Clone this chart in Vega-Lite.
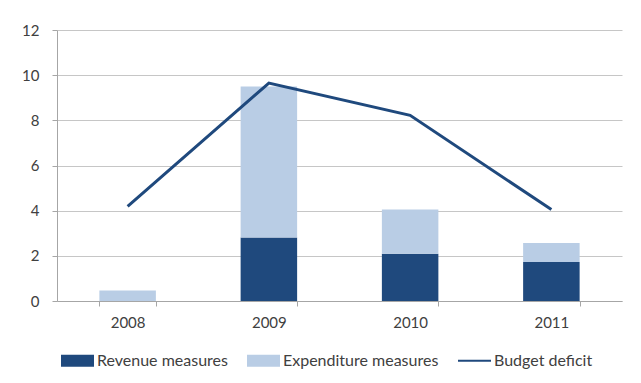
{
  "$schema": "https://vega.github.io/schema/vega-lite/v6.json",
  "autosize": "none",
  "width": 565,
  "height": 271,
  "padding": {"left": 57, "top": 30, "right": 19, "bottom": 82},
  "background": "white",
  "datasets": {
    "bars": [
      {"year": "2008", "series": "Revenue measures", "value": 0},
      {"year": "2008", "series": "Expenditure measures", "value": 0.47},
      {"year": "2009", "series": "Revenue measures", "value": 2.81},
      {"year": "2009", "series": "Expenditure measures", "value": 6.69},
      {"year": "2010", "series": "Revenue measures", "value": 2.09},
      {"year": "2010", "series": "Expenditure measures", "value": 1.96},
      {"year": "2011", "series": "Revenue measures", "value": 1.73},
      {"year": "2011", "series": "Expenditure measures", "value": 0.84}
    ],
    "deficit": [
      {"year": "2008", "series": "Budget deficit", "value": 4.19},
      {"year": "2009", "series": "Budget deficit", "value": 9.65},
      {"year": "2010", "series": "Budget deficit", "value": 8.22},
      {"year": "2011", "series": "Budget deficit", "value": 4.05}
    ]
  },
  "encoding": {
    "x": {
      "field": "year",
      "type": "ordinal",
      "scale": {"paddingInner": 0.6, "paddingOuter": 0.3},
      "axis": {
        "title": null,
        "labelAngle": 0,
        "tickBand": "extent",
        "tickSize": 5,
        "tickColor": "#a6a6a6",
        "domainColor": "#a6a6a6",
        "labelPadding": 9,
        "grid": false
      }
    },
    "y": {
      "field": "value",
      "type": "quantitative",
      "scale": {"domain": [0, 12], "nice": false},
      "axis": {
        "title": null,
        "values": [0, 2, 4, 6, 8, 10, 12],
        "tickSize": 5,
        "tickColor": "#a6a6a6",
        "domainColor": "#a6a6a6",
        "gridColor": "#c6c6c6",
        "labelPadding": 13
      }
    },
    "color": {
      "field": "series",
      "type": "nominal",
      "scale": {
        "domain": ["Revenue measures", "Expenditure measures", "Budget deficit"],
        "range": ["#1f497d", "#b9cde5", "#1f497d"]
      },
      "legend": {
        "title": null,
        "orient": "none",
        "direction": "horizontal",
        "legendX": 4,
        "legendY": 314,
        "columns": 3,
        "columnPadding": 19,
        "labelOffset": 3,
        "symbolSize": 1089,
        "symbolType": "M-1,-0.36H1V0.36H-1Z",
        "padding": 0,
        "encode": {
          "symbols": {
            "update": {
              "shape": {"signal": "datum.value === 'Budget deficit' ? 'M-1,-0.06H1V0.06H-1Z' : 'M-1,-0.36H1V0.36H-1Z'"},
              "fill": {"signal": "scale('color', datum.value)"},
              "fillOpacity": {"value": 1},
              "strokeWidth": {"value": 0}
            }
          }
        }
      }
    }
  },
  "layer": [
    {
      "data": {"name": "bars"},
      "mark": {"type": "bar"},
      "encoding": {
        "order": {"field": "series", "sort": "descending"}
      }
    },
    {
      "data": {"name": "deficit"},
      "mark": {"type": "line", "strokeWidth": 3},
      "encoding": {}
    }
  ],
  "config": {
    "view": {"stroke": null},
    "font": "Lato",
    "axis": {"labelFont": "Lato", "labelFontSize": 15, "labelColor": "#404040"},
    "legend": {"labelFont": "Lato", "labelFontSize": 16, "labelColor": "#404040"}
  }
}
